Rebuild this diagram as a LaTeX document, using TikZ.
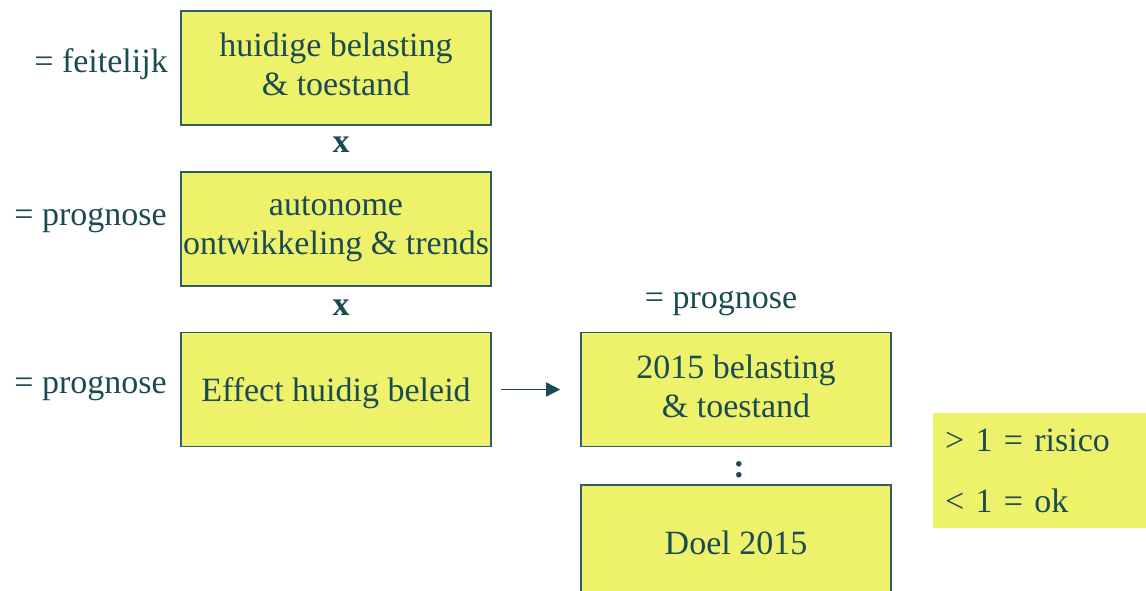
\documentclass[tikz,border=0pt]{standalone}
\usepackage{fontspec}
\setmainfont{Liberation Serif}
\usetikzlibrary{arrows.meta,positioning}
\definecolor{Inkt}{HTML}{1A4B52}
\definecolor{Rand}{HTML}{2F5D63}
\definecolor{Geel}{HTML}{EEF26B}

\tikzset{
  vak/.style={draw=Rand,fill=Geel,line width=1.6pt,minimum width=310pt,minimum height=114pt,
    inner sep=0pt,align=center,text=Inkt,font=\fontsize{34}{39}\selectfont,
    execute at begin node={\rule[-7pt]{0pt}{39pt}}},
  tekst/.style={text=Inkt,inner sep=0pt,font=\fontsize{34}{39}\selectfont},
  legenda/.style={fill=Geel,minimum width=213pt,minimum height=115pt,inner xsep=12pt,
    text width=189pt,align=left,text=Inkt,font=\fontsize{34}{40}\selectfont},
  pijl/.style={-{Triangle[length=14pt,width=14pt]},line width=1.5pt,draw=Inkt}
}

\begin{document}
\begin{tikzpicture}[x=1pt,y=-1pt]
  \useasboundingbox (0,0) rectangle (1146,591);

  % linkerkolom
  \node[vak] (huidig) at (336,68) {huidige belasting\\\& toestand};
  \node[vak] (trends) at (336,229) {autonome\\ontwikkeling \& trends};
  \node[vak] (effect) at (336,389.5) {Effect huidig beleid};

  % rechterkolom
  \node[vak] (prog2015) at (736,389.5) {2015 belasting\\\& toestand};
  \node[vak] (doel) at (736,542) {Doel 2015};

  \node[legenda] (schaal) at (1039.5,470.5) {> 1 = risico\\[21pt]< 1 = ok};

  % labels
  \node[tekst,anchor=base east] (feit) at (168,73) {= feitelijk};
  \node[tekst,anchor=base east] (progA) at (167,225) {= prognose};
  \node[tekst,anchor=base east] (progB) at (167,393) {= prognose};
  \node[tekst,anchor=base] (progC) at (721,308) {= prognose};

  % operatoren
  \node[tekst,anchor=base] (maal1) at (341,153) {\textbf{x}};
  \node[tekst,anchor=base] (maal2) at (341,315) {\textbf{x}};
  \node[tekst,anchor=base] (deel) at (739,477) {\textbf{:}};

  \draw[pijl,shorten <=9pt,shorten >=20pt] (effect) -- (prog2015);
\end{tikzpicture}
\end{document}
